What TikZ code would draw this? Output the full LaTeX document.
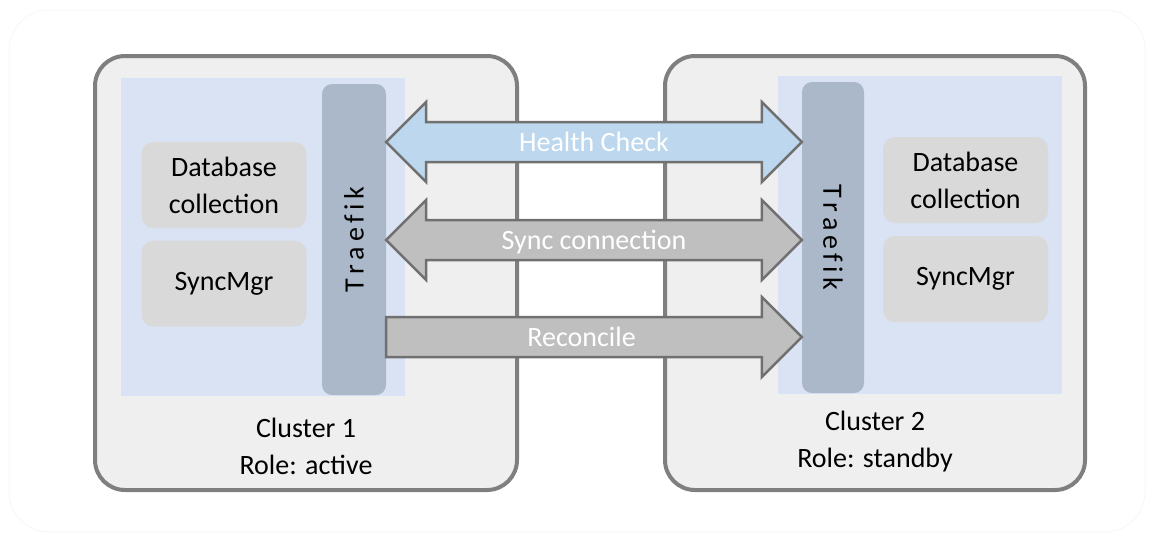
\documentclass[tikz,border=0pt]{standalone}
\usepackage{fontspec}
\setmainfont{Carlito}
\usetikzlibrary{calc}
\definecolor{clfill}{HTML}{EFEFEF}
\definecolor{clline}{HTML}{7F7F7F}
\definecolor{panelfill}{HTML}{DAE3F3}
\definecolor{barfill}{HTML}{AAB8C9}
\definecolor{boxfill}{HTML}{D9D9D9}
\definecolor{hcfill}{HTML}{BDD7EE}
\definecolor{syncfill}{HTML}{BFBFBF}
\definecolor{arrline}{HTML}{707070}
\begin{document}
\begin{tikzpicture}[x=1pt, y=-1pt,
  every node/.style={font=\fontsize{28}{37}\selectfont},
  cluster/.style={draw=clline, line width=4pt, fill=clfill, rounded corners=30pt, minimum height=434pt, inner sep=0pt},
  panel/.style={fill=panelfill, minimum width=284pt, minimum height=318pt, inner sep=0pt},
  bar/.style={fill=barfill, rounded corners=10pt, minimum height=311pt, inner sep=0pt},
  part/.style={fill=boxfill, rounded corners=12pt, minimum width=165pt, minimum height=86pt, align=center, inner sep=0pt},
  fatarrow/.style={draw=arrline, line width=2.5pt},
  arrlabel/.style={text=white, text height=18pt, text depth=0pt, inner sep=0pt},
  caption/.style={align=center, inner sep=0pt}]
\useasboundingbox (0,0) rectangle (1153,542);
\draw[black!3, line width=1pt, rounded corners=40pt] (9,10) rectangle (1145,532);

% cluster 1 (active)
\node[cluster, minimum width=422pt] (cl1) at (306,273) {};
\node[panel] (pn1) at (263,237) {};
\node[bar, minimum width=64pt] (tr1) at (354,239.5) {};
\node[rotate=90] at (tr1) {T\,r\,a\,e\,f\,i\,k};
\node[part] (db1) at (224,185) {Database\\collection};
\node[part] (sm1) at (224,283.5) {SyncMgr};
\node[caption] (cap1) at (306,446) {Cluster 1\\Role: active};

% cluster 2 (standby)
\node[cluster, minimum width=420pt] (cl2) at (875,273) {};
\node[panel] (pn2) at (920,234.5) {};
\node[bar, minimum width=62pt] (tr2) at (833,237.5) {};
\node[rotate=-90] at (tr2) {T\,r\,a\,e\,f\,i\,k};
\node[part] (db2) at (965.5,180) {Database\\collection};
\node[part] (sm2) at (965.5,279) {SyncMgr};
\node[caption] (cap2) at (875,442) {Cluster 2\\Role: standby};

% arrows between the two Traefik bars
\coordinate (yhc) at (0,142);
\coordinate (ysc) at (0,240);
\coordinate (yrc) at (0,337);
\coordinate (hcL) at (tr1.east |- yhc);
\coordinate (hcR) at (tr2.west |- yhc);
\coordinate (scL) at (tr1.east |- ysc);
\coordinate (scR) at (tr2.west |- ysc);
\coordinate (rcL) at (tr1.east |- yrc);
\coordinate (rcR) at (tr2.west |- yrc);

\draw[fatarrow, fill=hcfill] (hcL) -- ++(40,-40) -- ++(0,20) -- ($(hcR)+(-40,-20)$) -- ++(0,-20) -- (hcR)
  -- ++(-40,40) -- ++(0,-20) -- ($(hcL)+(40,20)$) -- ++(0,20) -- cycle;
\draw[fatarrow, fill=syncfill] (scL) -- ++(40,-40) -- ++(0,20) -- ($(scR)+(-40,-20)$) -- ++(0,-20) -- (scR)
  -- ++(-40,40) -- ++(0,-20) -- ($(scL)+(40,20)$) -- ++(0,20) -- cycle;
\draw[fatarrow, fill=syncfill] ($(rcL)+(0,-20)$) -- ($(rcR)+(-40,-20)$) -- ++(0,-20) -- (rcR)
  -- ++(-40,40) -- ++(0,-20) -- ($(rcL)+(0,20)$) -- cycle;

\node[arrlabel] (hc) at ($(hcL)!0.5!(hcR)$) {Health Check};
\node[arrlabel] (sc) at ($(scL)!0.5!(scR)$) {Sync connection};
\node[arrlabel] (rc) at ($(rcL)!0.47!(rcR)$) {Reconcile};
\end{tikzpicture}
\end{document}
